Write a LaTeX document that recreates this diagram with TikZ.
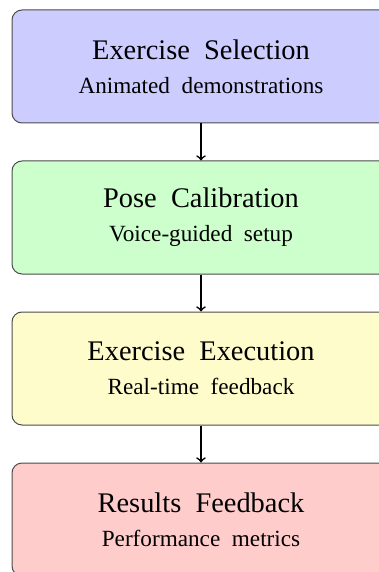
\documentclass[tikz,border=0pt]{standalone}
\usepackage{fontspec}
\setmainfont{Liberation Serif}[WordSpace=2]
\begin{document}
\begin{tikzpicture}[xscale=1,yscale=1]
			\tikzstyle{etape}=[draw=black!70,line width=0.5pt,rounded corners=5pt,minimum width=189pt,minimum height=56.5pt,align=center,inner sep=0pt]
			\tikzstyle{fleche}=[thick,->]
			\def\DistanceInterEtapes{75.5pt}
			\def\Colonne{100.5pt}
			\def\EtapeA{(-33.25pt)}
			\def\EtapeB{(-33.25pt-\DistanceInterEtapes)}
			\def\EtapeC{(-33.25pt-2*\DistanceInterEtapes)}
			\def\EtapeD{(-33.25pt-3*\DistanceInterEtapes)}
			\def\Titre#1{{\fontsize{14.2pt}{17pt}\selectfont #1}}
			\def\Soustitre#1{\\[5pt]{\fontsize{11.6pt}{14pt}\selectfont #1}}
			\useasboundingbox (0,0) rectangle (189.5pt,-286pt);
			\node[etape,fill=blue!20] (Selection) at ({\Colonne},{\EtapeA}) {\Titre{Exercise Selection}\Soustitre{Animated demonstrations}};
			\node[etape,fill=green!20] (Calibration) at ({\Colonne},{\EtapeB}) {\Titre{Pose Calibration}\Soustitre{Voice-guided setup}};
			\node[etape,fill=yellow!20] (Execution) at ({\Colonne},{\EtapeC}) {\Titre{Exercise Execution}\Soustitre{Real-time feedback}};
			\node[etape,fill=red!20] (Resultats) at ({\Colonne},{\EtapeD}) {\Titre{Results Feedback}\Soustitre{Performance metrics}};
			\draw[fleche] (Selection)--(Calibration) ;
			\draw[fleche] (Calibration)--(Execution) ;
			\draw[fleche] (Execution)--(Resultats) ;
		\end{tikzpicture}
\end{document}
